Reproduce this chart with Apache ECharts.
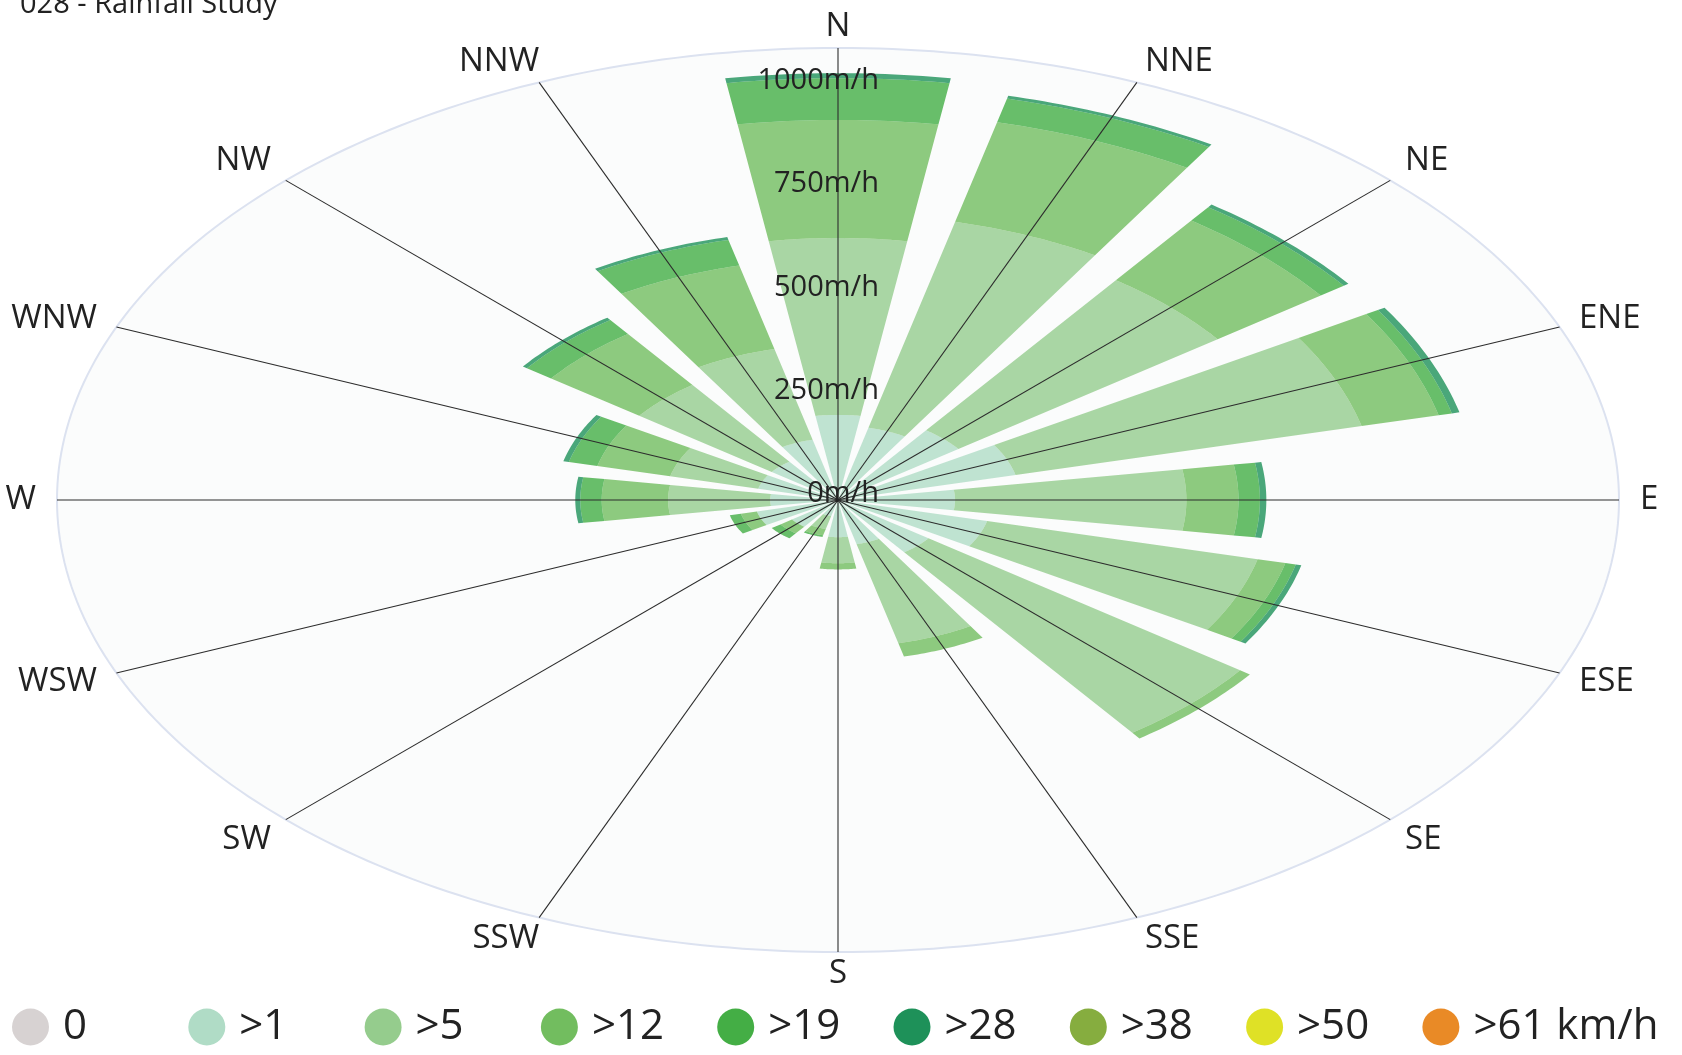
<!DOCTYPE html>
<html>
<head>
<meta charset="utf-8">
<script src="https://cdn.jsdelivr.net/npm/echarts@6/dist/echarts.min.js"></script>
<style>
  html, body { margin: 0; padding: 0; background: #fff; }
  #chart { width: 1682px; height: 1055px; }
</style>
</head>
<body>
<div id="chart"></div>
<script>
var directions = ['N', 'NNE', 'NE', 'ENE', 'E', 'ESE', 'SE', 'SSE',
  'S', 'SSW', 'SW', 'WSW', 'W', 'WNW', 'NW', 'NNW'];
var speedBins = ['0', '>1', '>5', '>12', '>19', '>28', '>38', '>50', '>61 km/h'];
var binColors = ['#d7d2d2', '#b0dcc6', '#95cc8d', '#72bd5f', '#44ae45',
  '#1e9159', '#86ad3f', '#dfe126', '#e98a26'];

// m/h per speed bin, one value per direction (N clockwise)
var calm   = [0, 0, 0, 0, 0, 0, 0, 0, 0, 0, 0, 0, 0, 0, 0, 0];
var over1  = [206, 180, 209, 256, 164, 215, 157, 110, 90, 40, 80, 117, 95, 115, 115, 150];
var over5  = [428, 513, 450, 499, 324, 390, 541, 247, 63, 32, 0, 0, 143, 127, 230, 226];
var over12 = [286, 248, 179, 111, 73, 40, 17, 33, 15, 16, 20, 23, 93, 105, 153, 208];
var over19 = [101, 59, 40, 19, 30, 15, 0, 0, 0, 4, 15, 16, 30, 41, 42, 64];
var over28 = [12, 7, 8, 11, 9, 8, 0, 0, 0, 0, 0, 0, 7, 8, 7, 7];
var over38 = [0, 0, 0, 0, 0, 0, 0, 0, 0, 0, 0, 0, 0, 0, 0, 0];
var over50 = [0, 0, 0, 0, 0, 0, 0, 0, 0, 0, 0, 0, 0, 0, 0, 0];
var over61 = [0, 0, 0, 0, 0, 0, 0, 0, 0, 0, 0, 0, 0, 0, 0, 0];
var binValues = [calm, over1, over5, over12, over19, over28, over38, over50, over61];

var radiusTicks = [0, 250, 500, 750, 1000];
var radiusMax = 1094;

var chart = echarts.init(document.getElementById('chart'));

var RY = 452, RX = 781;
var stretch = RX / RY;   // the rose is drawn as an ellipse
var step = 360 / directions.length;
var bandHalf = 8.8;
var font = '"Open Sans", "Noto Sans", sans-serif';

function toScreen(params, api, r, a) {
  var p = api.coord([r, a]);
  var cx = params.coordSys.cx;
  return [cx + (p[0] - cx) * stretch, p[1]];
}

function renderBand(params, api) {
  var i = api.value(0), r0 = api.value(1), r1 = api.value(2);
  if (!(r1 > r0)) return null;
  var a0 = i * step - bandHalf, a1 = i * step + bandHalf;
  var pts = [], n = 24, k;
  for (k = 0; k <= n; k++) pts.push(toScreen(params, api, r1, a0 + (a1 - a0) * k / n));
  for (k = n; k >= 0; k--) pts.push(toScreen(params, api, r0, a0 + (a1 - a0) * k / n));
  return {
    type: 'polygon',
    shape: { points: pts },
    style: { fill: api.visual('color'), opacity: 0.8 }
  };
}

function renderBackground(params, api) {
  var pts = [];
  for (var a = 0; a < 360; a += 1) pts.push(toScreen(params, api, radiusMax, a));
  return {
    type: 'polygon',
    shape: { points: pts },
    style: { fill: '#fbfcfc', stroke: '#dce2f0', lineWidth: 2 }
  };
}

function renderSpoke(params, api) {
  var i = api.value(0);
  var p0 = toScreen(params, api, 0, i * step);
  var p1 = toScreen(params, api, radiusMax, i * step);
  return {
    type: 'line',
    shape: { x1: p0[0], y1: p0[1], x2: p1[0], y2: p1[1] },
    style: { stroke: '#2c2c2c', lineWidth: 1.1 }
  };
}

function renderDirLabel(params, api) {
  var i = api.value(0);
  var ang = i * step * Math.PI / 180;
  var p = toScreen(params, api, radiusMax, i * step);
  var s = Math.sin(ang), c = Math.cos(ang);
  var align = Math.abs(s) < 0.3 ? 'center' : (s > 0 ? 'left' : 'right');
  var mid = Math.abs(c) < 0.45;
  var valign = mid ? 'middle' : (c > 0 ? 'bottom' : 'top');
  var dx = 21 * s;
  if (align === 'center' || (s < 0 && s > -0.5)) dx = 0;
  var y = p[1] - (mid ? 22 : 5) * c;
  return {
    type: 'text',
    x: p[0] + dx, y: y,
    style: {
      text: directions[i], fill: '#222', fontSize: 33, fontFamily: font,
      align: align, verticalAlign: valign, textAlign: align, textVerticalAlign: valign
    }
  };
}

function renderRadiusLabel(params, api) {
  var v = api.value(0);
  var p = toScreen(params, api, v, 0);
  return {
    type: 'text',
    x: p[0] + 41, y: p[1] - 6,
    style: {
      text: v + 'm/h', fill: '#222', fontSize: 29, fontFamily: font,
      align: 'right', verticalAlign: 'middle', textAlign: 'right', textVerticalAlign: 'middle'
    }
  };
}

var series = [{
  type: 'custom',
  coordinateSystem: 'polar',
  silent: true,
  z: 1,
  data: [[0]],
  renderItem: renderBackground
}];

var cumulative = directions.map(function () { return 0; });
speedBins.forEach(function (name, b) {
  var data = directions.map(function (d, i) {
    var start = cumulative[i];
    cumulative[i] += binValues[b][i];
    return [i, start, cumulative[i]];
  });
  series.push({
    name: name,
    type: 'custom',
    coordinateSystem: 'polar',
    z: 2,
    itemStyle: { color: binColors[b] },
    data: data,
    renderItem: renderBand
  });
});

series.push({
  type: 'custom', coordinateSystem: 'polar', silent: true, z: 5,
  data: directions.map(function (d, i) { return [i]; }),
  renderItem: renderSpoke
});
series.push({
  type: 'custom', coordinateSystem: 'polar', silent: true, z: 6,
  data: directions.map(function (d, i) { return [i]; }),
  renderItem: renderDirLabel
});
series.push({
  type: 'custom', coordinateSystem: 'polar', silent: true, z: 7,
  data: radiusTicks.map(function (v) { return [v]; }),
  renderItem: renderRadiusLabel
});

var option = {
  animation: false,
  title: {
    text: '028 - Rainfall Study',
    left: 20, top: -9, padding: 0,
    textStyle: { fontSize: 29, fontWeight: 'normal', fontFamily: font, color: '#222', lineHeight: 28 }
  },
  legend: {
    data: speedBins,
    left: 12, top: 1006, padding: 0,
    icon: 'circle',
    itemWidth: 37, itemHeight: 37, itemGap: 10.3,
    textStyle: {
      fontSize: 42, fontFamily: font, color: '#222', lineHeight: 42,
      width: 115, padding: [0, 0, 0, 9]
    }
  },
  polar: { center: [838, 500], radius: RY },
  angleAxis: { type: 'value', min: 0, max: 360, startAngle: 90, clockwise: true, show: false },
  radiusAxis: { type: 'value', min: 0, max: radiusMax, show: false },
  series: series
};

chart.setOption(option);
</script>
</body>
</html>
